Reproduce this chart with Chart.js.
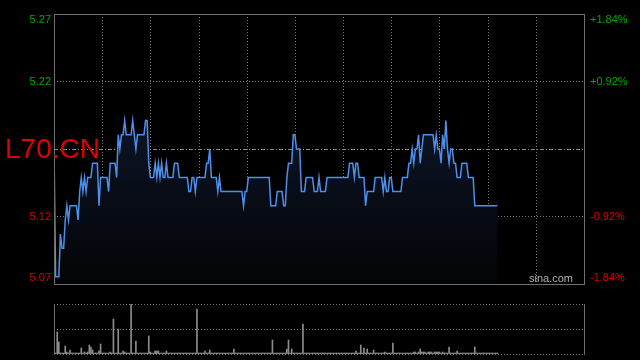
<!DOCTYPE html>
<html>
<head>
<meta charset="utf-8">
<script src="https://cdn.jsdelivr.net/npm/chart.js@4.4.1/dist/chart.umd.min.js"></script>
<style>
  html, body { margin: 0; padding: 0; background: #000; }
  #wrap { position: relative; width: 640px; height: 360px; background: #000; overflow: hidden; }
  canvas { position: absolute; left: 0; }
  #main { top: 0; }
  #vol { top: 290px; }
</style>
</head>
<body>
<div id="wrap">
  <canvas id="main" width="640" height="290"></canvas>
  <canvas id="vol" width="640" height="70"></canvas>
</div>
<script>
// ---------- data ----------
const symbol = 'L70.CN';
const sourceText = 'sina.com';
const prevClose = 5.17;
const maxPct = 1.84;
const sessionMinutes = 330;      // x axis length (minutes)
const gridEveryMinutes = 30;

const leftTickLabels  = ['5.27', '5.22', '5.12', '5.07'];
const rightTickLabels = ['+1.84%', '+0.92%', '-0.92%', '-1.84%'];
const tickPcts = [1.84, 0.92, -0.92, -1.84];

// minute prices
const prices = [
  5.17,5.08,5.08,5.08,5.11,5.10,5.10,5.12,5.13,5.12, 5.13,5.13,5.13,5.13,5.13,5.12,5.14,5.15,5.14,5.15,
  5.14,5.15,5.15,5.15,5.16,5.16,5.16,5.16,5.13,5.15, 5.15,5.15,5.15,5.15,5.14,5.16,5.16,5.16,5.16,5.15,
  5.18,5.17,5.18,5.18,5.19,5.18,5.18,5.18,5.18,5.19, 5.18,5.17,5.18,5.18,5.18,5.18,5.18,5.19,5.19,5.16,
  5.15,5.15,5.15,5.16,5.15,5.16,5.15,5.16,5.15,5.15, 5.16,5.15,5.15,5.15,5.15,5.16,5.16,5.16,5.15,5.15,
  5.15,5.15,5.15,5.15,5.14,5.14,5.15,5.15,5.14,5.15, 5.15,5.15,5.15,5.15,5.15,5.16,5.16,5.17,5.15,5.15,
  5.15,5.15,5.14,5.15,5.14,5.14,5.14,5.14,5.14,5.14, 5.14,5.14,5.14,5.14,5.14,5.14,5.14,5.14,5.13,5.14,
  5.14,5.15,5.15,5.15,5.15,5.15,5.15,5.15,5.15,5.15, 5.15,5.15,5.15,5.15,5.15,5.13,5.13,5.13,5.13,5.14,
  5.14,5.14,5.14,5.13,5.13,5.15,5.16,5.16,5.16,5.18, 5.18,5.17,5.17,5.17,5.14,5.14,5.14,5.15,5.15,5.15,
  5.15,5.15,5.14,5.14,5.14,5.15,5.14,5.14,5.14,5.14, 5.15,5.15,5.15,5.15,5.15,5.15,5.15,5.15,5.15,5.15,
  5.15,5.15,5.15,5.15,5.16,5.16,5.16,5.15,5.16,5.16, 5.15,5.15,5.15,5.15,5.13,5.14,5.14,5.14,5.14,5.14,
  5.15,5.15,5.15,5.15,5.15,5.14,5.15,5.14,5.14,5.15, 5.15,5.14,5.14,5.14,5.14,5.14,5.14,5.15,5.15,5.15,
  5.15,5.16,5.16,5.17,5.16,5.17,5.17,5.18,5.16,5.17, 5.18,5.18,5.18,5.18,5.18,5.18,5.18,5.17,5.18,5.17,
  5.17,5.16,5.18,5.17,5.19,5.17,5.16,5.17,5.17,5.16, 5.16,5.15,5.15,5.15,5.16,5.16,5.16,5.16,5.15,5.15,
  5.15,5.15,5.13,5.13,5.13,5.13,5.13,5.13,5.13,5.13, 5.13,5.13,5.13,5.13,5.13,5.13,5.13
];

// minute volumes (relative units)
const volumes = [
  6,1,22,12,1,1,1,8,2,1, 4,1,1,1,1,1,1,6,1,2,
  1,2,9,7,4,1,1,1,3,10, 1,1,1,1,1,2,1,35,1,1,
  25,1,1,3,2,1,1,1,50,1, 1,13,1,1,1,1,1,1,1,18,
  2,1,1,3,3,3,1,1,1,1, 3,1,1,1,1,1,1,1,1,1,
  1,1,1,1,1,1,1,1,1,45, 1,1,1,1,3,1,1,4,1,1,
  1,1,1,1,1,1,1,1,1,1, 1,1,5,1,1,1,1,1,1,1,
  1,1,1,1,1,1,1,1,1,1, 1,1,1,1,1,1,14,1,1,1,
  1,1,1,1,1,5,14,1,5,1, 1,1,1,1,1,30,1,1,1,1,
  1,1,1,1,1,1,1,1,1,1, 1,1,1,1,1,1,1,1,1,1,
  1,1,1,1,1,1,1,1,3,1, 1,9,1,6,1,5,1,1,1,4,
  1,1,1,1,1,1,2,1,1,1, 1,11,1,1,1,1,1,1,1,1,
  1,1,1,1,2,2,1,2,5,2, 2,2,1,2,2,2,1,2,2,2,
  2,1,2,1,1,1,7,1,1,1, 1,3,1,1,1,1,1,1,1,1,
  1,1,7,1,1,1,1,1,1,1, 1,1,1,1,1,1,1
];

// ---------- derived ----------
const yMax = prevClose * (1 + maxPct / 100);
const yMin = prevClose * (1 - maxPct / 100);
const tickValues = tickPcts.map(p => prevClose * (1 + p / 100));
const volMax = Math.max(...volumes);

const FONT = '"Liberation Sans", Arial, sans-serif';
const GREEN = '#00a800';
const RED = '#d80000';
const GRID = '#7a7a7a';
const BORDER = '#6e6e6e';

function hLine(ctx, x1, x2, y, dash, color) {
  ctx.save();
  ctx.strokeStyle = color; ctx.lineWidth = 1; ctx.setLineDash(dash);
  ctx.beginPath(); ctx.moveTo(x1, y); ctx.lineTo(x2, y); ctx.stroke();
  ctx.restore();
}
function vLine(ctx, x, y1, y2, dash, color) {
  ctx.save();
  ctx.strokeStyle = color; ctx.lineWidth = 1; ctx.setLineDash(dash);
  ctx.beginPath(); ctx.moveTo(x, y1); ctx.lineTo(x, y2); ctx.stroke();
  ctx.restore();
}
const px = v => Math.round(v) + 0.5;

const mainDecor = {
  id: 'mainDecor',
  beforeDatasetsDraw(chart) {
    const { ctx, chartArea: a, scales: { x, y } } = chart;
    for (let m = gridEveryMinutes; m < sessionMinutes; m += gridEveryMinutes) {
      vLine(ctx, px(x.getPixelForValue(m)), a.top, a.bottom, [1, 2], GRID);
    }
    tickValues.forEach((v, i) => {
      if (i === 0 || i === tickValues.length - 1) return;
      hLine(ctx, a.left, a.right, px(y.getPixelForValue(v)), [1, 2], GRID);
    });
    hLine(ctx, a.left, a.right, px(y.getPixelForValue(prevClose)), [4, 2, 1, 2], '#8a8a8a');
  },
  afterDatasetsDraw(chart) {
    const { ctx, chartArea: a } = chart;
    ctx.save();
    ctx.strokeStyle = BORDER; ctx.lineWidth = 1;
    ctx.strokeRect(px(a.left), px(a.top), Math.round(a.right - a.left), Math.round(a.bottom - a.top));
    ctx.restore();
  },
  afterDraw(chart) {
    const { ctx, chartArea: a, scales: { y } } = chart;
    ctx.save();
    ctx.font = '11px ' + FONT;
    ctx.textBaseline = 'middle';
    tickValues.forEach((v, i) => {
      let yy = y.getPixelForValue(v);
      if (i === 0) yy += 6;
      if (i === tickValues.length - 1) yy -= 6;
      ctx.fillStyle = tickPcts[i] > 0 ? GREEN : RED;
      ctx.textAlign = 'right';
      ctx.fillText(leftTickLabels[i], a.left - 3, yy);
      ctx.textAlign = 'left';
      ctx.fillText(rightTickLabels[i], a.right + 6, yy);
    });
    ctx.fillStyle = '#b0b0b0';
    ctx.textAlign = 'right';
    ctx.fillText(sourceText, a.right - 11, a.bottom - 5);
    ctx.font = '28px ' + FONT;
    ctx.fillStyle = '#e00000';
    ctx.textAlign = 'left';
    ctx.fillText(symbol, 5, y.getPixelForValue(prevClose) + 1);
    ctx.restore();
  }
};

new Chart(document.getElementById('main'), {
  type: 'line',
  data: {
    datasets: [{
      data: prices.map((p, i) => ({ x: i, y: p })),
      borderColor: '#4d8fea',
      borderWidth: 1.5,
      pointRadius: 0,
      tension: 0,
      fill: 'start',
      backgroundColor: (c) => {
        const { ctx, chartArea } = c.chart;
        if (!chartArea) return 'rgba(0,0,0,0)';
        const g = ctx.createLinearGradient(0, chartArea.top, 0, chartArea.bottom);
        g.addColorStop(0, '#14213d');
        g.addColorStop(0.4, '#0c1425');
        g.addColorStop(1, '#030406');
        return g;
      }
    }]
  },
  options: {
    responsive: false, animation: false, devicePixelRatio: 1,
    layout: { padding: { left: 54, right: 56, top: 14, bottom: 6 } },
    plugins: { legend: { display: false }, tooltip: { enabled: false } },
    scales: {
      x: { type: 'linear', min: 0, max: sessionMinutes, display: false },
      y: { type: 'linear', min: yMin, max: yMax, display: false }
    }
  },
  plugins: [mainDecor]
});

const volDecor = {
  id: 'volDecor',
  beforeDatasetsDraw(chart) {
    const { ctx, chartArea: a } = chart;
    const mid = (a.top + a.bottom) / 2;
    [a.top, mid, a.bottom].forEach(yy => hLine(ctx, a.left, a.right, px(yy), [1, 2], GRID));
  },
  afterDatasetsDraw(chart) {
    const { ctx, chartArea: a } = chart;
    vLine(ctx, px(a.left), a.top, a.bottom + 1, [], BORDER);
    vLine(ctx, px(a.right), a.top, a.bottom + 1, [], BORDER);
  }
};

new Chart(document.getElementById('vol'), {
  type: 'bar',
  data: {
    datasets: [{
      data: volumes.map((v, i) => ({ x: i, y: v })),
      backgroundColor: '#8c8c8c',
      borderWidth: 0,
      barThickness: 1
    }]
  },
  options: {
    responsive: false, animation: false, devicePixelRatio: 1,
    layout: { padding: { left: 54, right: 56, top: 14, bottom: 6 } },
    plugins: { legend: { display: false }, tooltip: { enabled: false } },
    scales: {
      x: { type: 'linear', min: 0, max: sessionMinutes, display: false, offset: false },
      y: { type: 'linear', min: 0, max: volMax, display: false }
    }
  },
  plugins: [volDecor]
});
</script>
</body>
</html>
